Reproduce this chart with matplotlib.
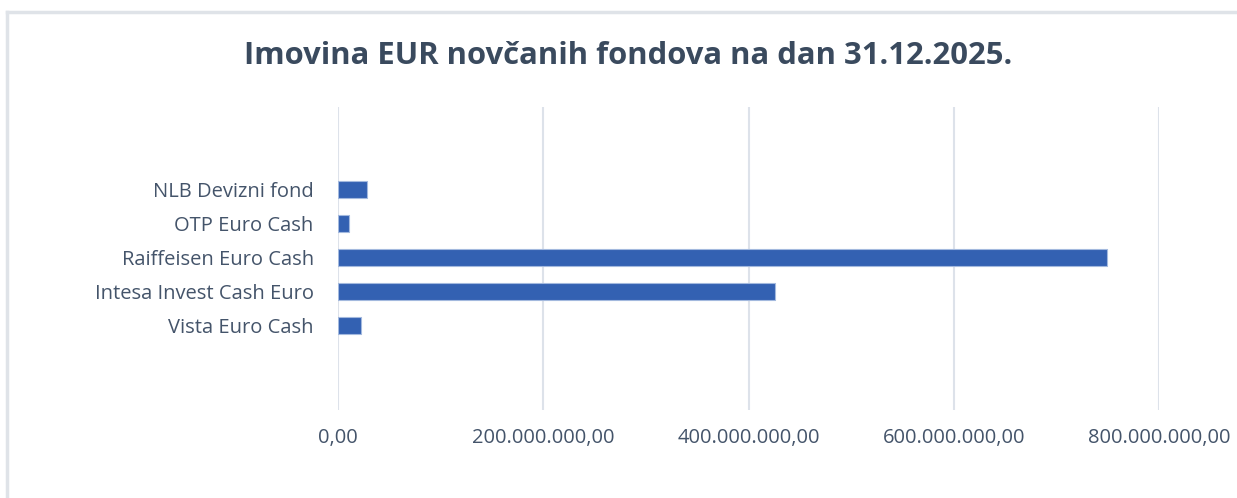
import matplotlib
matplotlib.use("Agg")
import matplotlib.pyplot as plt
from matplotlib.ticker import FuncFormatter
from matplotlib.lines import Line2D

categories = ["Vista Euro Cash", "Intesa Invest Cash Euro", "Raiffeisen Euro Cash",
              "OTP Euro Cash", "NLB Devizni fond"]
values = [22_000_000, 426_000_000, 749_000_000, 11_000_000, 28_000_000]
xticks = [0, 200_000_000, 400_000_000, 600_000_000, 800_000_000]
title = "Imovina EUR novčanih fondova na dan 31.12.2025."

W, H = 1237, 498
fig = plt.figure(figsize=(W / 100, H / 100), dpi=100)
plt.rcParams['font.family'] = ['Open Sans', 'DejaVu Sans']

# chart frame (light gray border)
fig.add_artist(Line2D([7.5 / W, 7.5 / W], [0, 1 - 12 / H], color="#dfe3e8", lw=2.5))
fig.add_artist(Line2D([7.5 / W, 1], [1 - 12 / H, 1 - 12 / H], color="#dfe3e8", lw=2.5))

left, right = 338 / W, 1159 / W
top, bottom = 1 - 107 / H, 1 - 410 / H
ax = fig.add_axes([left, bottom, right - left, top - bottom])

ypos = list(range(len(categories)))
ax.barh(ypos, values, height=0.5, color="#3361b2", edgecolor="#a3b9de", linewidth=0.8, zorder=3)
ax.set_yticks(ypos)
ax.set_yticklabels(categories)
ax.set_ylim(-2.5, 6.45)
ax.set_xlim(0, 800_000_000)
ax.set_xticks(xticks)

def fmt(v, _):
    s = f"{int(round(v)):,}".replace(",", ".")
    return s + ",00"

ax.xaxis.set_major_formatter(FuncFormatter(fmt))
ax.grid(axis="x", color="#dde2ea", linewidth=1.5, zorder=0)
for s in ax.spines.values():
    s.set_visible(False)
ax.tick_params(axis="both", length=0, labelsize=14.5, colors="#44546a")
ax.tick_params(axis="y", pad=17.5)
ax.tick_params(axis="x", pad=13)

fig.text(628 / W, 1 - 56 / H, title, ha="center", va="center",
         fontsize=22.3, fontweight="bold", color="#3a4a5e")

fig.savefig("out.png", dpi=100, facecolor="white")
